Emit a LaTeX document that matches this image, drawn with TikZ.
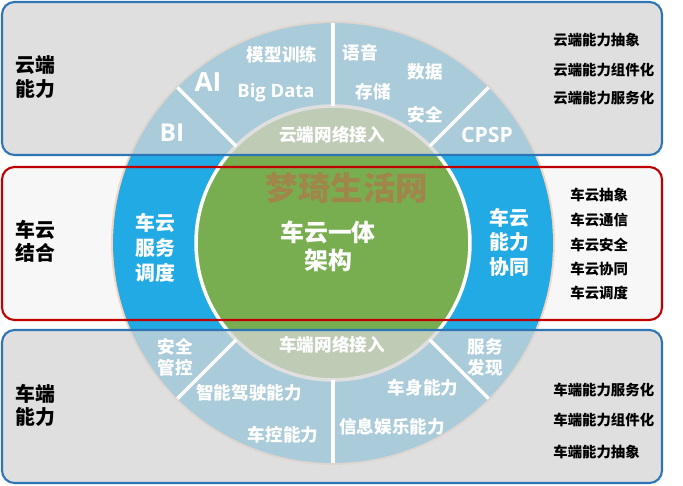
\documentclass[tikz,border=0pt]{standalone}
\usepackage{fontspec}
\setmainfont{Noto Sans CJK SC}
\newfontfamily\latinf{Open Sans}
\usetikzlibrary{calc,positioning}

\definecolor{ringblue}{RGB}{34,170,228}
\definecolor{coregreen}{RGB}{120,174,80}
\definecolor{veilgray}{RGB}{214,214,214}
\definecolor{boxblue}{RGB}{46,117,182}
\definecolor{boxred}{RGB}{192,0,0}
\definecolor{bandwhite}{RGB}{247,247,247}
\definecolor{glow}{RGB}{246,214,192}
\definecolor{wmark}{RGB}{200,95,70}

\tikzset{
  veilbox/.style={draw=boxblue,line width=1.2pt,fill=veilgray,fill opacity=0.76,rounded corners=0.25cm},
  bandbox/.style={draw=boxred,line width=1.2pt,rounded corners=0.25cm},
  spoke/.style={white,line width=2pt},
  sidelabel/.style={text=black,align=center,inner sep=0pt,font=\bfseries\fontsize{11.3}{13.2}\selectfont},
  ringtext/.style={text=white,align=center,inner sep=0pt,font=\bfseries\fontsize{10}{12}\selectfont},
  bigring/.style={text=white,align=center,inner sep=0pt,font=\bfseries\fontsize{11.3}{14}\selectfont},
  latintext/.style={text=white,inner sep=0pt,font=\latinf\bfseries\fontsize{#1}{#1}\selectfont},
  listtext/.style={text=black,anchor=west,inner sep=0pt,font=\bfseries\fontsize{8.2}{10}\selectfont}
}

\begin{document}
\begin{tikzpicture}[x=0.02cm,y=-0.02cm]%%%车云一体架构
\useasboundingbox (0,0) rectangle (683,486);
\fill[white] (0,0) rectangle (683,486);
\fill[bandwhite,rounded corners=0.25cm] (2,167) rectangle (662,320);

%%% 圆环
\coordinate (hub) at (333,243);
\fill[glow] (hub) circle[radius=4.44cm];
\fill[ringblue] (hub) circle[radius=4.4cm];
\draw[white,line width=2pt,fill=coregreen] (hub) circle[radius=2.74cm];

%%% 三层
\draw[veilbox] (2,2) rectangle (662,155);
\draw[veilbox] (2,330) rectangle (662,483);
\draw[bandbox] (2,167) rectangle (662,320);

\foreach \a in {45,90,135,225,270,315}
  \draw[spoke] ($(hub)+(\a:2.74cm)$) -- ($(hub)+(\a:4.4cm)$);

%%% 云端
\node[sidelabel] (cloudcap) at (35,77) {云端\\能力};
\node[ringtext] (train) at (282,55) {模型训练};
\node[latintext=15] (ai) at (208,82) {AI};
\node[latintext=10.5] (bigdata) at (276,93) {Big Data};
\node[latintext=14] (bi) at (172,133) {BI};
\node[ringtext] (cloudnet) at (332,135) {云端网络接入};
\node[ringtext] (voice) at (360,53) {语音};
\node[ringtext] (data) at (425,72) {数据};
\node[ringtext] (store) at (373,92) {存储};
\node[ringtext] (csafe) at (425,115) {安全};
\node[latintext=12] (cpsp) at (487,135) {CPSP};
\node[listtext] (cl1) at (553,40) {云端能力抽象};
\node[listtext] (cl2) at (553,70) {云端能力组件化};
\node[listtext] (cl3) at (553,98) {云端能力服务化};

%%% 车云
\node[sidelabel] (bandcap) at (35,241) {车云\\结合};
\node[bigring,font=\bfseries\fontsize{11.3}{14.2}\selectfont] (sched) at (155,248) {车云\\服务\\调度};
\node[text=wmark,opacity=0.5,inner sep=0pt,font=\bfseries\fontsize{18.5}{20}\selectfont] (mark) at (347,188) {梦琦生活网};
\node[text=white,align=center,inner sep=0pt,font=\bfseries\fontsize{13.6}{16}\selectfont] (core) at (328,246) {车云一体\\架构};
\node[bigring,font=\bfseries\fontsize{11.3}{14}\selectfont] (coop) at (509,242) {车云\\能力\\协同};
\node[listtext] (bl1) at (570,195) {车云抽象};
\node[listtext] (bl2) at (570,220) {车云通信};
\node[listtext] (bl3) at (570,245) {车云安全};
\node[listtext] (bl4) at (570,269) {车云协同};
\node[listtext] (bl5) at (570,293) {车云调度};

%%% 车端
\node[sidelabel] (carcap) at (35,405) {车端\\能力};
\node[ringtext] (guard) at (175,357) {安全\\管控};
\node[ringtext] (carnet) at (332,345) {车端网络接入};
\node[ringtext] (discover) at (485,357) {服务\\发现};
\node[ringtext] (drive) at (249,393) {智能驾驶能力};
\node[ringtext] (ctrl) at (283,435) {车控能力};
\node[ringtext] (body) at (423,388) {车身能力};
\node[ringtext] (info) at (392,427) {信息娱乐能力};
\node[listtext] (vl1) at (553,390) {车端能力服务化};
\node[listtext] (vl2) at (553,420) {车端能力组件化};
\node[listtext] (vl3) at (553,452) {车端能力抽象};
\end{tikzpicture}
\end{document}
